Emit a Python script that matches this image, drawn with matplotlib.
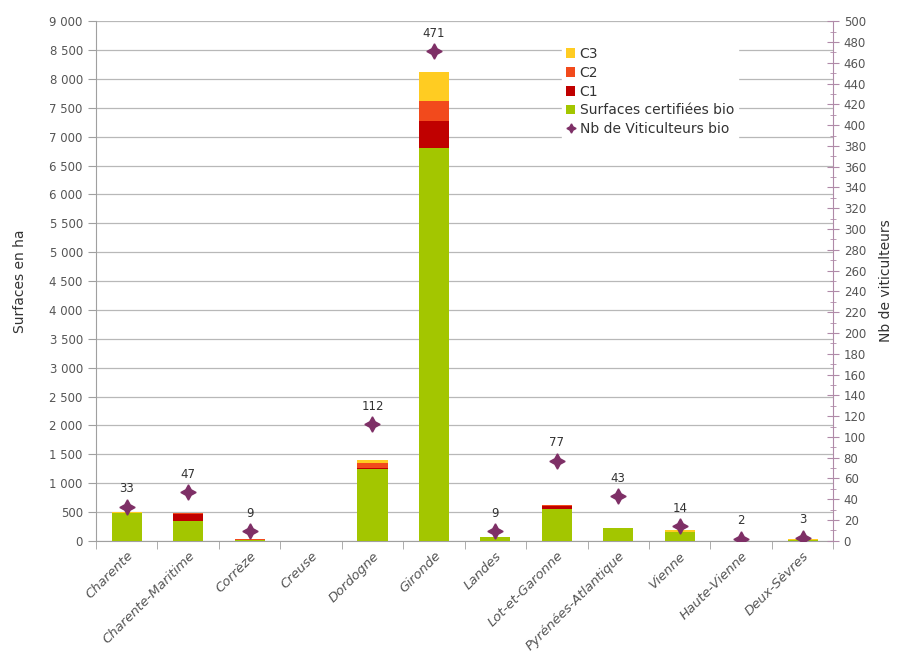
import numpy as np
import matplotlib
matplotlib.use("Agg")
import matplotlib.pyplot as plt
from matplotlib.ticker import MultipleLocator, FuncFormatter

departements = ["Charente", "Charente-Maritime", "Corrèze", "Creuse", "Dordogne",
                "Gironde", "Landes", "Lot-et-Garonne", "Pyrénées-Atlantique",
                "Vienne", "Haute-Vienne", "Deux-Sèvres"]
surf_bio = [480, 340, 15, 0, 1240, 6805, 65, 560, 220, 160, 0, 15]
surf_c1 = [0, 130, 5, 0, 20, 467, 0, 40, 0, 0, 0, 0]
surf_c2 = [10, 10, 5, 0, 90, 340, 0, 15, 5, 0, 0, 0]
surf_c3 = [5, 0, 5, 0, 50, 508, 0, 0, 5, 30, 0, 12]
nb_viti = [33, 47, 9, np.nan, 112, 471, 9, 77, 43, 14, 2, 3]

COL_BIO = "#a3c600"
COL_C1 = "#c00000"
COL_C2 = "#f24a1c"
COL_C3 = "#ffcc22"
COL_VITI = "#7e2f66"
TXT = "#555555"

plt.rcParams["font.family"] = ["DejaVu Sans"]

fig = plt.figure(figsize=(8.97, 6.62), dpi=100)
ax = fig.add_axes([0.107, 0.183, 0.822, 0.785])
x = np.arange(len(departements))
w = 0.49

bio = np.array(surf_bio, float)
c1 = np.array(surf_c1, float)
c2 = np.array(surf_c2, float)
c3 = np.array(surf_c3, float)

ax.bar(x, bio, w, color=COL_BIO, label="Surfaces certifiées bio", zorder=3)
ax.bar(x, c1, w, bottom=bio, color=COL_C1, label="C1", zorder=3)
ax.bar(x, c2, w, bottom=bio + c1, color=COL_C2, label="C2", zorder=3)
ax.bar(x, c3, w, bottom=bio + c1 + c2, color=COL_C3, label="C3", zorder=3)

ax.set_xlim(-0.5, len(departements) - 0.5)
ax.set_ylim(0, 9000)
ax.yaxis.set_major_locator(MultipleLocator(500))
ax.yaxis.set_major_formatter(FuncFormatter(lambda v, p: f"{int(v):,}".replace(",", " ")))
ax.grid(axis="y", color="#b8b8b8", lw=0.9, zorder=0)
ax.set_axisbelow(True)
for s in ["top", "right"]:
    ax.spines[s].set_visible(False)
ax.spines["left"].set_color("#a0a0a0")
ax.spines["bottom"].set_color("#a0a0a0")
ax.tick_params(axis="y", colors="#a0a0a0", labelcolor=TXT, labelsize=8.5, length=6)

ax.set_xticks(x)
ax.set_xticklabels(departements, rotation=45, ha="right", rotation_mode="anchor",
                   fontsize=9.5, color=TXT, style="italic")
ax.tick_params(axis="x", length=0, pad=6)
ax.set_xticks(np.arange(len(departements) + 1) - 0.5, minor=True)
ax.tick_params(axis="x", which="minor", length=6, color="#a0a0a0")
ax.set_ylabel("Surfaces en ha", fontsize=10, color="#333333", labelpad=16)

ax2 = ax.twinx()
ax2.set_ylim(0, 500)
ax2.yaxis.set_major_locator(MultipleLocator(20))
ax2.yaxis.set_minor_locator(MultipleLocator(10))
for s in ["top", "left", "bottom"]:
    ax2.spines[s].set_visible(False)
ax2.spines["right"].set_color("#b08aa8")
ax2.tick_params(axis="y", which="major", direction="inout", length=8,
                color="#b08aa8", labelcolor=TXT, labelsize=8.5)
ax2.tick_params(axis="y", which="minor", direction="inout", length=5, color="#b08aa8")
ax2.plot(x, nb_viti, linestyle="none", marker=(4, 1, 0), markersize=11,
         color=COL_VITI, label="Nb de Viticulteurs bio", zorder=5)
for xi, v in zip(x, nb_viti):
    if not np.isnan(v):
        ax2.text(xi, v + 11, f"{int(v)}", ha="center", va="bottom", fontsize=8.5, color="#333333")
ax2.set_ylabel("Nb de viticulteurs", fontsize=10, color="#333333", labelpad=9)

handles = []
labels = []
for a in (ax, ax2):
    h, l = a.get_legend_handles_labels()
    handles += h
    labels += l
order = ["C3", "C2", "C1", "Surfaces certifiées bio", "Nb de Viticulteurs bio"]
hmap = dict(zip(labels, handles))
leg = ax2.legend([hmap[k] for k in order], order, loc="upper left",
                 bbox_to_anchor=(0.622, 0.972), frameon=True, fontsize=10,
                 handlelength=0.7, handleheight=0.7, handletextpad=0.3,
                 labelspacing=0.35, borderpad=0.3, markerscale=0.6)
leg.get_frame().set_facecolor("white")
leg.get_frame().set_edgecolor("white")
leg.get_frame().set_alpha(1)
for t in leg.get_texts():
    t.set_color("#333333")

fig.savefig("out.png", dpi=100)
